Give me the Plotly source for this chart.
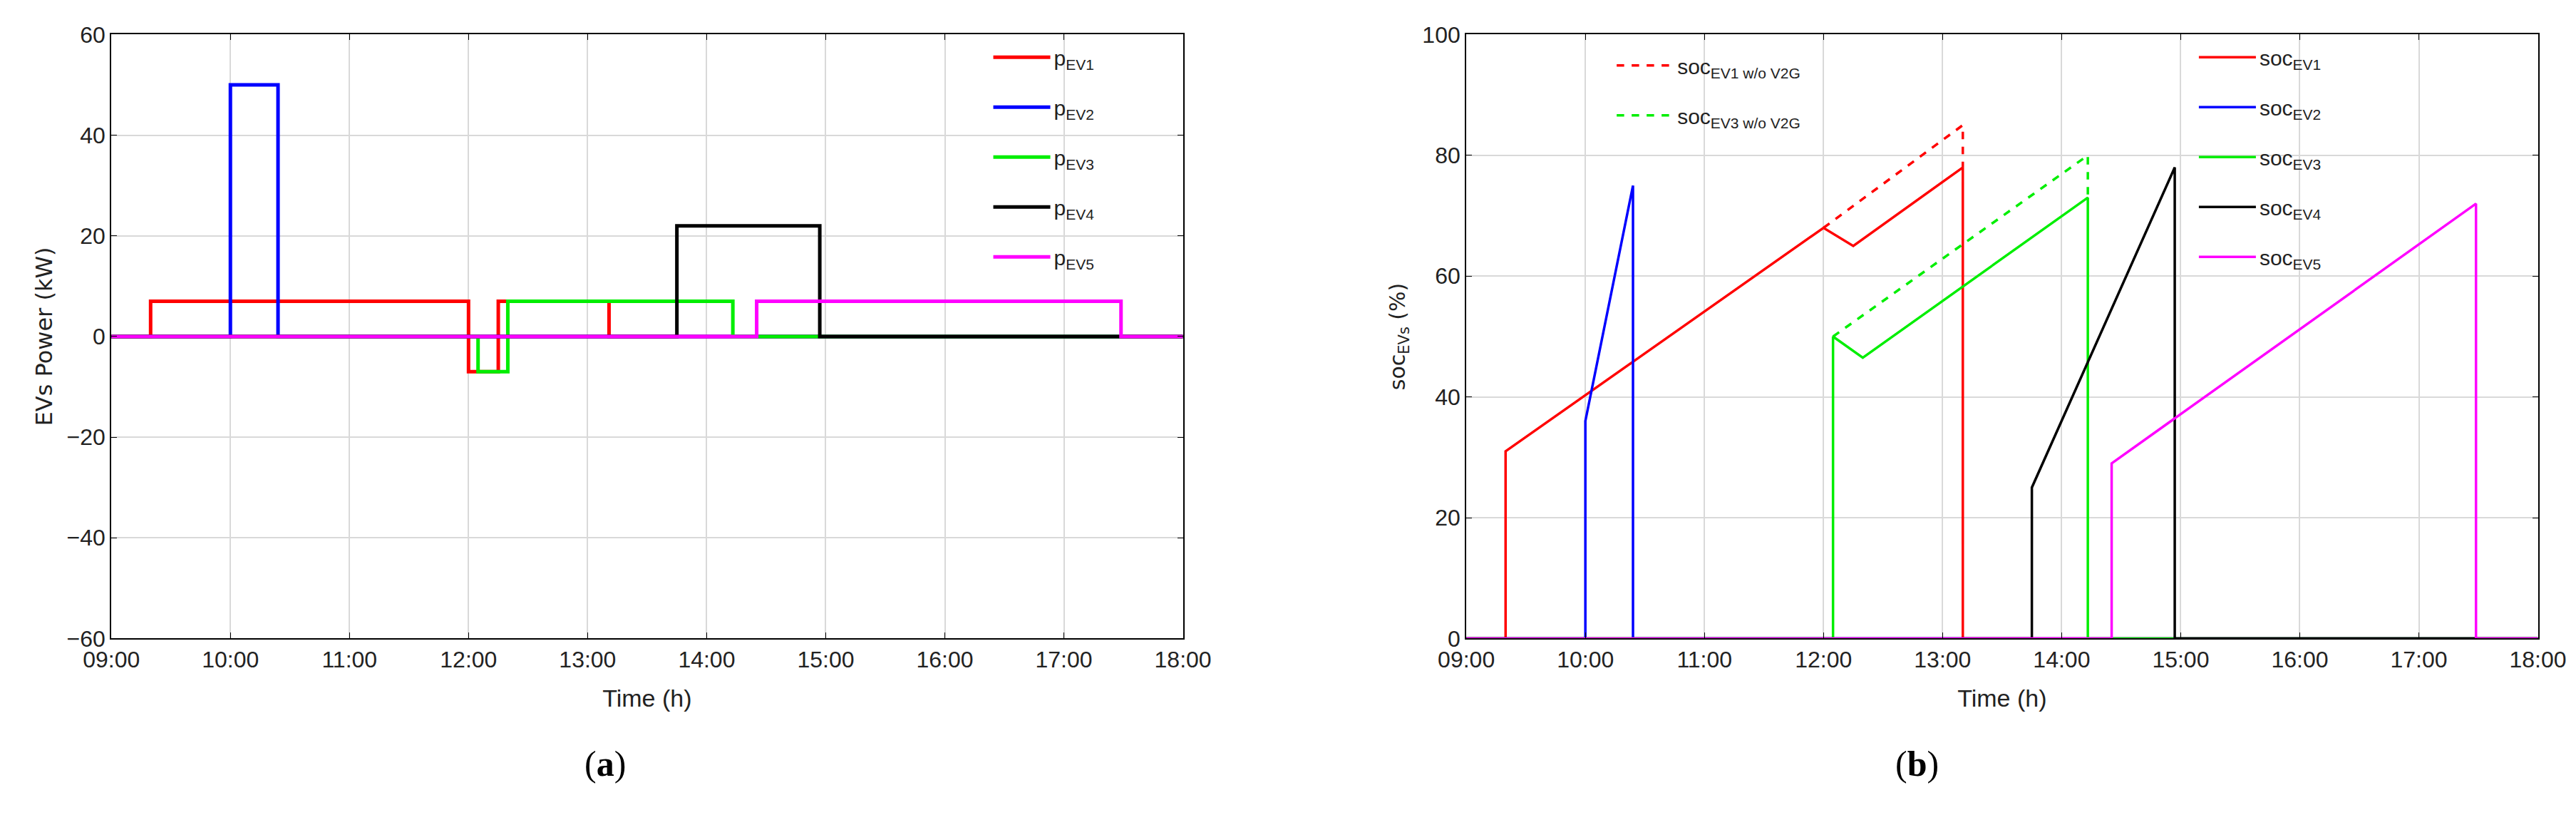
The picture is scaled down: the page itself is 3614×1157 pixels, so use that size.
import plotly.graph_objects as go

# ── Data (time in hours) ─────────────────────────────────────────
t_ev1 = [9, 9.33, 9.33, 12.0, 12.0, 12.25, 12.25, 13.18, 13.18, 18]
p_ev1 = [0, 0, 7, 7, -7, -7, 7, 7, 0, 0]
t_ev2 = [9, 10.0, 10.0, 10.4, 10.4, 18]
p_ev2 = [0, 0, 50, 50, 0, 0]
t_ev3 = [9, 12.08, 12.08, 12.33, 12.33, 14.22, 14.22, 18]
p_ev3 = [0, 0, -7, -7, 7, 7, 0, 0]
t_ev4 = [9, 13.75, 13.75, 14.95, 14.95, 18]
p_ev4 = [0, 0, 22, 22, 0, 0]
t_ev5 = [9, 14.42, 14.42, 17.48, 17.48, 18]
p_ev5 = [0, 0, 7, 7, 0, 0]

ts_ev1 = [9, 9.33, 9.33, 12.0, 12.25, 13.17, 13.17, 18]
soc_ev1 = [0, 0, 31, 68, 65, 78, 0, 0]
ts_ev1_nov2g = [12.0, 13.17, 13.17]
soc_ev1_nov2g = [68, 85, 78]
ts_ev2 = [9, 10.0, 10.0, 10.4, 10.4, 18]
soc_ev2 = [0, 0, 36, 75, 0, 0]
ts_ev3 = [9, 12.08, 12.08, 12.33, 14.22, 14.22, 18]
soc_ev3 = [0, 0, 50, 46.5, 73, 0, 0]
ts_ev3_nov2g = [12.08, 14.22, 14.22]
soc_ev3_nov2g = [50, 80, 73]
ts_ev4 = [9, 13.75, 13.75, 14.95, 14.95, 18]
soc_ev4 = [0, 0, 25, 78, 0, 0]
ts_ev5 = [9, 14.42, 14.42, 17.48, 17.48, 18]
soc_ev5 = [0, 0, 29, 72, 0, 0]

hours = list(range(9, 19))
hour_labels = [f"{h:02d}:00" for h in hours]
colors = ["#ff0000", "#0000ff", "#00ee00", "#000000", "#ff00ff"]

FONT = "Liberation Sans Narrow, Liberation Sans, Arial"
fig = go.Figure()

# Panel (a)
for i, (t, p) in enumerate([(t_ev1, p_ev1), (t_ev2, p_ev2), (t_ev3, p_ev3),
                            (t_ev4, p_ev4), (t_ev5, p_ev5)]):
    fig.add_trace(go.Scatter(x=t, y=p, mode="lines", name=f"p<sub>EV{i+1}</sub>",
                             line=dict(color=colors[i], width=5),
                             legendgroup=f"a{i}",
                             xaxis="x", yaxis="y", legend="legend3"))

# Panel (b)
for i, (t, s) in enumerate([(ts_ev1, soc_ev1), (ts_ev2, soc_ev2), (ts_ev3, soc_ev3),
                            (ts_ev4, soc_ev4), (ts_ev5, soc_ev5)]):
    fig.add_trace(go.Scatter(x=t, y=s, mode="lines", name=f"soc<sub>EV{i+1}</sub>",
                             line=dict(color=colors[i], width=3.5),
                             legendgroup=f"b{i}",
                             xaxis="x2", yaxis="y2", legend="legend"))
fig.add_trace(go.Scatter(x=ts_ev1_nov2g, y=soc_ev1_nov2g, mode="lines",
                         name="soc<sub>EV1 w/o V2G</sub>", legendgroup="c1",
                         line=dict(color=colors[0], width=3.5, dash="dash"),
                         xaxis="x2", yaxis="y2", legend="legend2"))
fig.add_trace(go.Scatter(x=ts_ev3_nov2g, y=soc_ev3_nov2g, mode="lines",
                         name="soc<sub>EV3 w/o V2G</sub>", legendgroup="c3",
                         line=dict(color=colors[2], width=3.5, dash="dash"),
                         xaxis="x2", yaxis="y2", legend="legend2"))

axis_common = dict(range=[9, 18], tickvals=hours, ticktext=hour_labels,
                   showgrid=True, gridcolor="#d9d9d9", gridwidth=1.5,
                   showline=True, linecolor="black", linewidth=2, mirror="ticks",
                   ticks="inside", ticklen=8, tickcolor="black", zeroline=False,
                   tickfont=dict(size=32, color="#222"),
                   title=dict(text="Time (h)", standoff=25,
                              font=dict(size=34, color="#222")))
yaxis_common = dict(showgrid=True, gridcolor="#d9d9d9", gridwidth=1.5,
                    showline=True, linecolor="black", linewidth=2, mirror="ticks",
                    ticks="inside", ticklen=8, tickcolor="black", zeroline=False,
                    tickfont=dict(size=32, color="#222"))

legend_common = dict(bgcolor="rgba(0,0,0,0)", font=dict(size=30, family=FONT),
                     tracegroupgap=28, itemwidth=80, xanchor="left", yanchor="top")

fig.update_layout(
    width=3614, height=1157, template="none",
    paper_bgcolor="white", plot_bgcolor="white",
    margin=dict(l=0, r=0, t=0, b=0),
    font=dict(family=FONT, color="#222"),
    xaxis=dict(domain=[0.041, 0.457], anchor="y", **axis_common),
    yaxis=dict(domain=[0.233, 0.965], anchor="x", range=[-60, 60], dtick=20,
               title=dict(text="EVs Power (kW)", standoff=10,
                          font=dict(size=32, family="DejaVu Sans")),
               **yaxis_common),
    xaxis2=dict(domain=[0.567, 0.983], anchor="y2", **axis_common),
    yaxis2=dict(domain=[0.233, 0.965], anchor="x2", range=[0, 100], dtick=20,
                title=dict(text="soc<sub>EVs</sub> (%)", standoff=15,
                           font=dict(size=30, family="DejaVu Sans")),
                **yaxis_common),
    legend3=dict(x=0.382, y=0.96, **legend_common),
    legend=dict(x=0.850, y=0.96, **legend_common),
    legend2=dict(x=0.624, y=0.95, **legend_common),
    annotations=[
        dict(text="(<b>a</b>)", x=0.224, y=0.055, xref="paper", yref="paper",
             showarrow=False, font=dict(size=50, family="Liberation Serif", color="black")),
        dict(text="(<b>b</b>)", x=0.751, y=0.055, xref="paper", yref="paper",
             showarrow=False, font=dict(size=50, family="Liberation Serif", color="black")),
    ],
)

fig.write_html("out.html")
